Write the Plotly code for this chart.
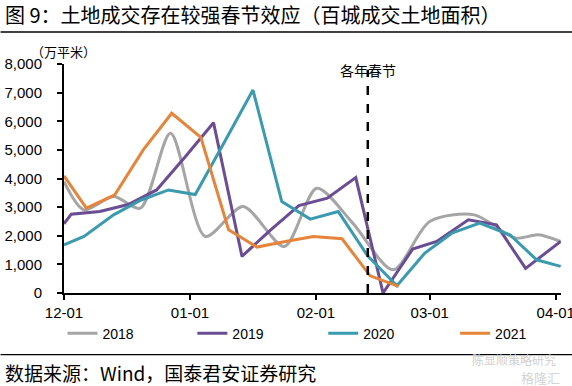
import plotly.graph_objects as go

# ---------------- data ----------------
dates_2018 = ["2000-12-01", "2000-12-05 22:00", "2000-12-13 05:00", "2000-12-19 19:00",
              "2000-12-27 05:00", "2001-01-04 19:00", "2001-01-14 02:00", "2001-01-24 05:00",
              "2001-02-01 05:00", "2001-02-10", "2001-02-20", "2001-03-01", "2001-03-12",
              "2001-03-22", "2001-03-27 17:00", "2001-04-02 05:00"]
vals_2018 = [3890, 2905, 3370, 2965, 5580, 1975, 3020, 1625, 3660, 2450, 810, 2500, 2730,
             1920, 2035, 1800]

dates_2019 = ["2000-12-01", "2000-12-02 19:00", "2000-12-09 19:00", "2000-12-16 19:00",
              "2000-12-23 19:00", "2000-12-30 19:00", "2001-01-06 19:00", "2001-01-13 19:00",
              "2001-01-20 19:00", "2001-01-27 19:00", "2001-02-03 19:00", "2001-02-10 19:00",
              "2001-02-17 12:00", "2001-02-24 19:00", "2001-03-02 17:00", "2001-03-10 12:00",
              "2001-03-17 10:00", "2001-03-24 14:00", "2001-04-02 05:00"]
vals_2019 = [2420, 2755, 2850, 3090, 3600, 4750, 5950, 1280, 2200, 3055, 3315, 4030, 0,
             1535, 1800, 2555, 2380, 860, 1800]

dates_2020 = ["2000-12-01", "2000-12-05 22:00", "2000-12-13 05:00", "2000-12-20",
              "2000-12-26 17:00", "2001-01-02 07:00", "2001-01-09 10:00", "2001-01-16 12:00",
              "2001-01-23 14:00", "2001-01-30 14:00", "2001-02-06 12:00", "2001-02-13 17:00",
              "2001-02-20 22:00", "2001-02-27 19:00", "2001-03-06 10:00", "2001-03-13 07:00",
              "2001-03-20 17:00", "2001-03-27 07:00", "2001-04-02 05:00"]
vals_2020 = [1685, 1975, 2730, 3250, 3600, 3440, 5260, 7090, 3195, 2580, 2845, 1300, 255,
             1395, 2090, 2440, 2035, 1160, 930]

dates_2021 = ["2000-12-01", "2000-12-06 12:00", "2000-12-13 12:00", "2000-12-20 12:00",
              "2000-12-27 12:00", "2001-01-03 16:00", "2001-01-10 12:00", "2001-01-17 12:00",
              "2001-01-24 12:00", "2001-01-31 08:00", "2001-02-07 10:00", "2001-02-14 08:00",
              "2001-02-21 08:00"]
vals_2021 = [4090, 2965, 3430, 5000, 6280, 5440, 2210, 1605, 1800, 1975, 1895, 600, 230]

series_names = ["2018", "2019", "2020", "2021"]
series_colors = ["#A5A5A5", "#6A4D93", "#3A9AAF", "#E6843A"]
spring_festival_date = "2001-02-13 18:00"
spring_label = "各年春节"

title_text = "图 9：土地成交存在较强春节效应（百城成交土地面积）"
unit_text = "（万平米）"
source_text = "数据来源：Wind，国泰君安证券研究"

# ---------------- layout helpers ----------------
W, H = 572, 386
L, R, T, B = 63.5, 11, 64, 92.7
PW, PH = W - L - R, H - T - B


def px_x(px):
    return (px - L) / PW


def px_y(py):
    return (H - B - py) / PH


CJK = "Noto Sans CJK SC"
LAT = "Liberation Sans, Arial, sans-serif"

legend_ids = ["legend", "legend2", "legend3", "legend4"]
legend_px = [62, 192, 323, 455]

fig = go.Figure()
all_dates = [dates_2018, dates_2019, dates_2020, dates_2021]
all_vals = [vals_2018, vals_2019, vals_2020, vals_2021]
for i, name in enumerate(series_names):
    line = dict(color=series_colors[i], width=3)
    if name == "2018":
        line.update(shape="spline", smoothing=0.8)
    fig.add_trace(go.Scatter(x=all_dates[i], y=all_vals[i], mode="lines", name=name,
                             line=line, legend=legend_ids[i]))

fig.add_shape(type="line", xref="x", yref="y", x0=spring_festival_date,
              x1=spring_festival_date, y0=0, y1=7800,
              line=dict(color="black", width=2.5, dash="dash"))
fig.add_annotation(x=spring_festival_date, xref="x", y=px_y(58), yref="paper",
                   text=spring_label, showarrow=False,
                   font=dict(family=CJK, size=14, color="black"))

# title and rules
fig.add_annotation(x=px_x(2), y=px_y(14), xref="paper", yref="paper", text=title_text,
                   showarrow=False, xanchor="left", yanchor="middle",
                   font=dict(family=CJK, size=20, color="black"))
fig.add_shape(type="line", xref="paper", yref="paper", x0=px_x(0), x1=px_x(W),
              y0=px_y(32), y1=px_y(32), line=dict(color="black", width=1.5))
fig.add_shape(type="line", xref="paper", yref="paper", x0=px_x(0), x1=px_x(W),
              y0=px_y(355), y1=px_y(355), line=dict(color="black", width=1.2))
fig.add_annotation(x=px_x(2), y=px_y(373), xref="paper", yref="paper", text=source_text,
                   showarrow=False, xanchor="left", yanchor="middle",
                   font=dict(family=CJK, size=19, color="black"))
fig.add_annotation(x=px_x(63), y=px_y(51), xref="paper", yref="paper", text=unit_text,
                   showarrow=False, xanchor="center", yanchor="middle",
                   font=dict(family=CJK, size=13, color="black"))
# faint watermark
fig.add_annotation(x=px_x(558), y=px_y(360), xref="paper", yref="paper", text="陈显顺策略研究",
                   showarrow=False, xanchor="right", yanchor="middle",
                   font=dict(family=CJK, size=12, color="#cfcfcf"))
fig.add_annotation(x=px_x(562), y=px_y(378), xref="paper", yref="paper", text="格隆汇",
                   showarrow=False, xanchor="right", yanchor="middle",
                   font=dict(family=CJK, size=13, color="#d4d4d4"))

legends = {}
for lid, lx in zip(legend_ids, legend_px):
    legends[lid] = dict(orientation="h", x=px_x(lx), xanchor="left", y=px_y(334),
                        yanchor="middle", font=dict(family=LAT, size=14, color="black"),
                        itemwidth=30, bgcolor="rgba(0,0,0,0)")

fig.update_layout(
    width=W, height=H,
    margin=dict(l=L, r=R, t=T, b=B, pad=0, autoexpand=False),
    paper_bgcolor="white", plot_bgcolor="white",
    showlegend=True,
    **legends,
    xaxis=dict(type="date", range=["2000-12-01", "2001-04-02 07:00"],
               tickformat="%m-%d", dtick="M1", tick0="2000-12-01",
               ticklabeloverflow="allow", automargin=False,
               showgrid=False, zeroline=False, showline=True, linecolor="black", linewidth=2,
               ticks="outside", ticklen=5, tickwidth=2, tickcolor="black",
               tickfont=dict(family=LAT, size=15, color="black")),
    yaxis=dict(range=[0, 8000], dtick=1000, tickformat=",", showgrid=False, zeroline=False,
               showline=True, linecolor="black", linewidth=2, automargin=False,
               ticks="outside", ticklen=5, tickwidth=2, tickcolor="black",
               ticklabelstandoff=12,
               tickfont=dict(family=LAT, size=15, color="black")),
)

fig.write_html("out.html", config={"displayModeBar": False},
               post_script="document.body.style.margin='0';document.body.style.padding='0';")
